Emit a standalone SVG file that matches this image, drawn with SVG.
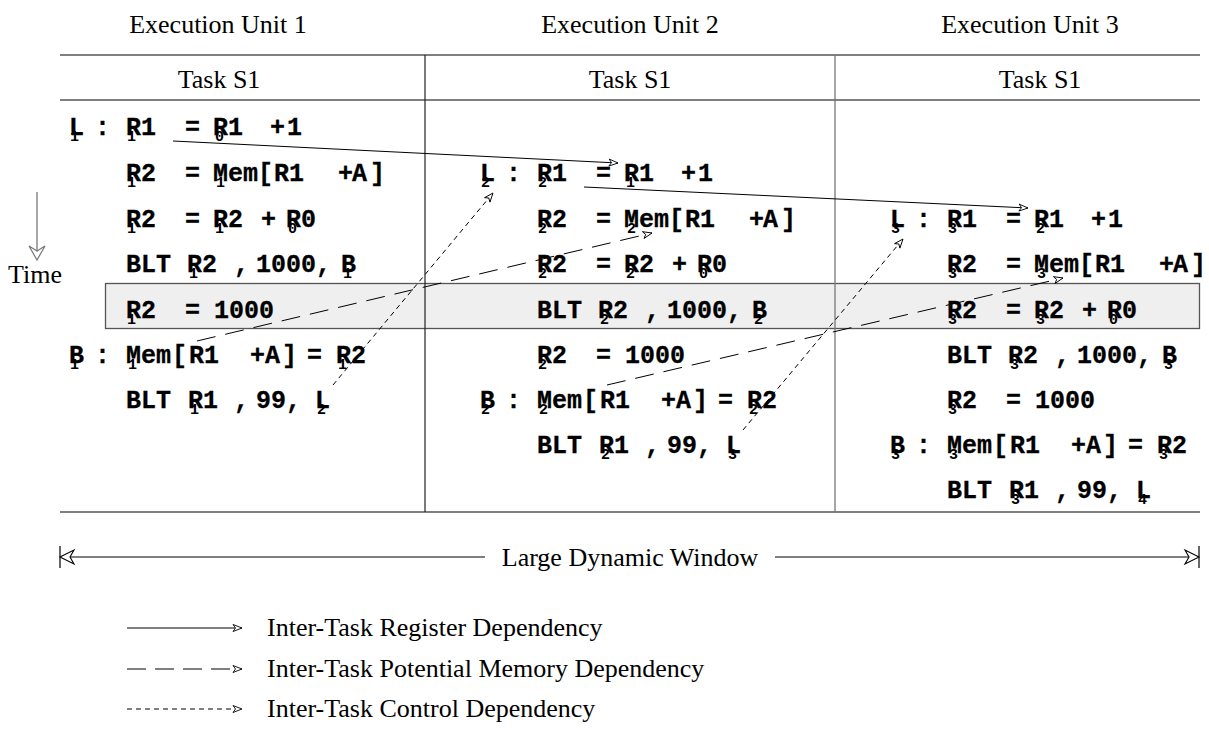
<svg xmlns="http://www.w3.org/2000/svg" width="1209" height="730" viewBox="0 0 1209 730">
<style>
.t{font-family:"Liberation Serif","Times New Roman",serif;font-size:26px;fill:#000}
.c{font-family:"Liberation Mono","Courier New",monospace;font-size:25px;font-weight:bold;fill:#000;stroke:#000;stroke-width:0.3}
.s{font-family:"Liberation Mono","Courier New",monospace;font-size:15px;font-weight:bold;fill:#000}
.ln{stroke:#000;stroke-width:1.2;fill:none}
.reg{stroke:#000;stroke-width:1;fill:none;marker-end:url(#ah)}
.mem{stroke:#000;stroke-width:1;fill:none;stroke-dasharray:19 10;marker-end:url(#ah)}
.ctl{stroke:#000;stroke-width:1;fill:none;stroke-dasharray:5 4;marker-end:url(#ah)}
</style>
<defs>
<marker id="ah" markerUnits="userSpaceOnUse" markerWidth="12" markerHeight="10" viewBox="-1 -1 12 9" refX="9" refY="3.5" orient="auto">
<path d="M0,0 L9,3.5 L0,7 L2.5,3.5 Z" fill="#fff" stroke="#000" stroke-width="0.9"/>
</marker>
</defs>
<rect width="1209" height="730" fill="#fff"/>

<g id="headers">
<text class="t" x="218" y="33" text-anchor="middle">Execution Unit 1</text>
<text class="t" x="630" y="33" text-anchor="middle">Execution Unit 2</text>
<text class="t" x="1030" y="33" text-anchor="middle">Execution Unit 3</text>
<text class="t" x="219" y="88" text-anchor="middle">Task S1</text>
<text class="t" x="630" y="88" text-anchor="middle">Task S1</text>
<text class="t" x="1040" y="88" text-anchor="middle">Task S1</text>
</g>

<g id="highlight">
<rect x="105.5" y="283.5" width="1094" height="45" fill="#efefef" stroke="#555" stroke-width="1.3"/>
</g>

<g id="table">
<line class="ln" x1="60" y1="55" x2="1200" y2="55"/>
<line class="ln" x1="60" y1="100" x2="1200" y2="100"/>
<line class="ln" x1="60" y1="512" x2="1200" y2="512"/>
<line x1="425" y1="55" x2="425" y2="512" stroke="#222" stroke-width="1.2"/>
<line x1="835" y1="55" x2="835" y2="512" stroke="#777" stroke-width="1.3"/>
</g>

<g id="unit1">
<text class="c" y="135"><tspan x="69">L</tspan><tspan x="95">:</tspan><tspan x="126">R1</tspan><tspan x="185">=</tspan><tspan x="213">R1</tspan><tspan x="270">+</tspan><tspan x="287">1</tspan></text>
<text class="s" y="141"><tspan x="70">1</tspan><tspan x="127">1</tspan><tspan x="215">0</tspan></text>
<text class="c" y="181"><tspan x="126">R2</tspan><tspan x="185">=</tspan><tspan x="213">Mem</tspan><tspan x="258">[</tspan><tspan x="274">R1</tspan><tspan x="338">+</tspan><tspan x="352">A</tspan><tspan x="370">]</tspan></text>
<text class="s" y="187"><tspan x="127">1</tspan><tspan x="216">1</tspan></text>
<text class="c" y="227"><tspan x="126">R2</tspan><tspan x="185">=</tspan><tspan x="213">R2</tspan><tspan x="261">+</tspan><tspan x="286">R0</tspan></text>
<text class="s" y="233"><tspan x="127">1</tspan><tspan x="215">1</tspan><tspan x="288">0</tspan></text>
<text class="c" y="272"><tspan x="126">BLT</tspan><tspan x="187">R2</tspan><tspan x="234">,</tspan><tspan x="256">1000,</tspan><tspan x="341">B</tspan></text>
<text class="s" y="278"><tspan x="189">1</tspan><tspan x="343">1</tspan></text>
<text class="c" y="318"><tspan x="126">R2</tspan><tspan x="185">=</tspan><tspan x="214">1000</tspan></text>
<text class="s" y="324"><tspan x="127">1</tspan></text>
<text class="c" y="363"><tspan x="69">B</tspan><tspan x="95">:</tspan><tspan x="126">Mem</tspan><tspan x="172">[</tspan><tspan x="189">R1</tspan><tspan x="250">+</tspan><tspan x="265">A</tspan><tspan x="282">]</tspan><tspan x="307">=</tspan><tspan x="336">R2</tspan></text>
<text class="s" y="369"><tspan x="70">1</tspan><tspan x="128">1</tspan><tspan x="338">1</tspan></text>
<text class="c" y="408"><tspan x="126">BLT</tspan><tspan x="188">R1</tspan><tspan x="234">,</tspan><tspan x="256">99,</tspan><tspan x="315">L</tspan></text>
<text class="s" y="414"><tspan x="190">1</tspan><tspan x="317">2</tspan></text>
</g>

<g id="unit2" transform="translate(411,0)">
<text class="c" y="181"><tspan x="69">L</tspan><tspan x="95">:</tspan><tspan x="126">R1</tspan><tspan x="185">=</tspan><tspan x="213">R1</tspan><tspan x="270">+</tspan><tspan x="287">1</tspan></text>
<text class="s" y="187"><tspan x="70">2</tspan><tspan x="127">2</tspan><tspan x="215">1</tspan></text>
<text class="c" y="227"><tspan x="126">R2</tspan><tspan x="185">=</tspan><tspan x="213">Mem</tspan><tspan x="258">[</tspan><tspan x="274">R1</tspan><tspan x="338">+</tspan><tspan x="352">A</tspan><tspan x="370">]</tspan></text>
<text class="s" y="233"><tspan x="127">2</tspan><tspan x="216">2</tspan></text>
<text class="c" y="272"><tspan x="126">R2</tspan><tspan x="185">=</tspan><tspan x="213">R2</tspan><tspan x="261">+</tspan><tspan x="286">R0</tspan></text>
<text class="s" y="278"><tspan x="127">2</tspan><tspan x="215">2</tspan><tspan x="288">0</tspan></text>
<text class="c" y="318"><tspan x="126">BLT</tspan><tspan x="187">R2</tspan><tspan x="234">,</tspan><tspan x="256">1000,</tspan><tspan x="341">B</tspan></text>
<text class="s" y="324"><tspan x="189">2</tspan><tspan x="343">2</tspan></text>
<text class="c" y="363"><tspan x="126">R2</tspan><tspan x="185">=</tspan><tspan x="214">1000</tspan></text>
<text class="s" y="369"><tspan x="127">2</tspan></text>
<text class="c" y="408"><tspan x="69">B</tspan><tspan x="95">:</tspan><tspan x="126">Mem</tspan><tspan x="172">[</tspan><tspan x="189">R1</tspan><tspan x="250">+</tspan><tspan x="265">A</tspan><tspan x="282">]</tspan><tspan x="307">=</tspan><tspan x="336">R2</tspan></text>
<text class="s" y="414"><tspan x="70">2</tspan><tspan x="128">2</tspan><tspan x="338">2</tspan></text>
<text class="c" y="453"><tspan x="126">BLT</tspan><tspan x="188">R1</tspan><tspan x="234">,</tspan><tspan x="256">99,</tspan><tspan x="315">L</tspan></text>
<text class="s" y="459"><tspan x="190">2</tspan><tspan x="317">3</tspan></text>
</g>

<g id="unit3" transform="translate(821,0)">
<text class="c" y="227"><tspan x="69">L</tspan><tspan x="95">:</tspan><tspan x="126">R1</tspan><tspan x="185">=</tspan><tspan x="213">R1</tspan><tspan x="270">+</tspan><tspan x="287">1</tspan></text>
<text class="s" y="233"><tspan x="70">3</tspan><tspan x="127">3</tspan><tspan x="215">2</tspan></text>
<text class="c" y="272"><tspan x="126">R2</tspan><tspan x="185">=</tspan><tspan x="213">Mem</tspan><tspan x="258">[</tspan><tspan x="274">R1</tspan><tspan x="338">+</tspan><tspan x="352">A</tspan><tspan x="370">]</tspan></text>
<text class="s" y="278"><tspan x="127">3</tspan><tspan x="216">3</tspan></text>
<text class="c" y="318"><tspan x="126">R2</tspan><tspan x="185">=</tspan><tspan x="213">R2</tspan><tspan x="261">+</tspan><tspan x="286">R0</tspan></text>
<text class="s" y="324"><tspan x="127">3</tspan><tspan x="215">3</tspan><tspan x="288">0</tspan></text>
<text class="c" y="363"><tspan x="126">BLT</tspan><tspan x="187">R2</tspan><tspan x="234">,</tspan><tspan x="256">1000,</tspan><tspan x="341">B</tspan></text>
<text class="s" y="369"><tspan x="189">3</tspan><tspan x="343">3</tspan></text>
<text class="c" y="408"><tspan x="126">R2</tspan><tspan x="185">=</tspan><tspan x="214">1000</tspan></text>
<text class="s" y="414"><tspan x="127">3</tspan></text>
<text class="c" y="453"><tspan x="69">B</tspan><tspan x="95">:</tspan><tspan x="126">Mem</tspan><tspan x="172">[</tspan><tspan x="189">R1</tspan><tspan x="250">+</tspan><tspan x="265">A</tspan><tspan x="282">]</tspan><tspan x="307">=</tspan><tspan x="336">R2</tspan></text>
<text class="s" y="459"><tspan x="70">3</tspan><tspan x="128">3</tspan><tspan x="338">3</tspan></text>
<text class="c" y="498"><tspan x="126">BLT</tspan><tspan x="188">R1</tspan><tspan x="234">,</tspan><tspan x="256">99,</tspan><tspan x="315">L</tspan></text>
<text class="s" y="504"><tspan x="190">3</tspan><tspan x="317">4</tspan></text>
</g>

<g id="connectors">
<path class="reg" d="M173,141 L618,163"/>
<path class="reg" d="M584,187 L1028,208"/>
<path class="mem" d="M197,341 L652,233"/>
<path class="mem" d="M607,385 L1063,278"/>
<path class="ctl" d="M333,385 L493,193"/>
<path class="ctl" d="M743,430 L903,239"/>
</g>

<g id="time-axis">
<line x1="37" y1="192" x2="37" y2="258" stroke="#777" stroke-width="1.3"/>
<path d="M29,246 L37,260 L45,246 L37,251 Z" fill="#fff" stroke="#777" stroke-width="1.2"/>
<text class="t" x="8" y="283">Time</text>
</g>

<g id="window">
<line class="ln" x1="61" y1="557" x2="485" y2="557"/>
<line class="ln" x1="775" y1="557" x2="1198" y2="557"/>
<line class="ln" x1="60" y1="546" x2="60" y2="568"/>
<line class="ln" x1="1199" y1="546" x2="1199" y2="568"/>
<path d="M60,557 L74,550 L70,557 L74,564 Z" fill="#fff" stroke="#000" stroke-width="1.1"/>
<path d="M1199,557 L1185,550 L1189,557 L1185,564 Z" fill="#fff" stroke="#000" stroke-width="1.1"/>
<text class="t" x="630" y="566" text-anchor="middle">Large Dynamic Window</text>
</g>

<g id="legend">
<path class="reg" d="M127,628 L242,628"/>
<path class="mem" style="stroke-dasharray:19 9" d="M127,669 L242,669"/>
<path class="ctl" d="M127,709 L242,709"/>
<text class="t" x="267" y="636">Inter-Task Register Dependency</text>
<text class="t" x="267" y="677">Inter-Task Potential Memory Dependency</text>
<text class="t" x="267" y="717">Inter-Task Control Dependency</text>
</g>
</svg>
